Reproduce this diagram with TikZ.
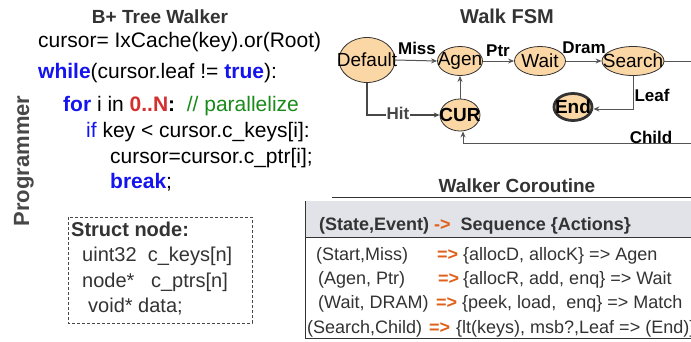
\documentclass[tikz,border=0pt]{standalone}
\usepackage{fontspec}
\setmainfont{Liberation Sans}
\usetikzlibrary{arrows.meta,shapes.geometric}
\definecolor{kwblue}{HTML}{1414F0}
\definecolor{kwred}{HTML}{D43030}
\definecolor{kwgreen}{HTML}{1A8A1A}
\definecolor{txtgray}{HTML}{333333}
\definecolor{peach}{HTML}{FCD7A6}
\definecolor{edgegray}{HTML}{555555}
\definecolor{hdrgray}{HTML}{E1E3E8}
\definecolor{orng}{HTML}{E0601A}
\newcommand{\zb}[1]{\makebox[0pt]{#1}}
\begin{document}
\begin{tikzpicture}[x=1pt,y=-1pt,
  code/.style={anchor=base west,inner sep=0,font=\fontsize{21}{25}\selectfont},
  title/.style={anchor=base,inner sep=0,text=txtgray,font=\fontsize{19}{23}\selectfont\bfseries},
  stxt/.style={anchor=base west,inner sep=0,text=txtgray,font=\fontsize{20}{24}\selectfont},
  row/.style={anchor=base west,inner sep=0,text=txtgray,font=\fontsize{18}{22}\selectfont},
  state/.style={ellipse,draw=txtgray,line width=0.8pt,fill=peach,inner sep=0,font=\fontsize{19}{22}\selectfont},
  elabel/.style={inner sep=1pt,font=\fontsize{17}{20}\selectfont\bfseries},
  arr/.style={draw=edgegray,line width=1pt,-{Stealth[length=6pt,width=5pt]}},
]
\useasboundingbox (0,0) rectangle (691,341);
\fill[white] (0,0) rectangle (691,341);

% ---------- B+ Tree Walker ----------
\node[title] (t1) at (160,23) {B+ Tree Walker};
\node[code] (c1) at (38,47) {cursor= IxCache(key).or(Root)};
\node[code] (c2) at (38,78) {\textcolor{kwblue}{\bfseries while}(cursor.leaf != \textcolor{kwblue}{\bfseries true}):};
\node[code] (c3) at (63,111) {\textcolor{kwblue}{\bfseries for} i in \textcolor{kwred}{\bfseries 0..N}\textbf{:}\ \ \textcolor{kwgreen}{// parallelize}};
\node[code] (c4) at (86,137) {\textcolor{kwblue}{if} key < cursor.c\_keys[i]:};
\node[code] (c5) at (110,163) {cursor=cursor.c\_ptr[i];};
\node[code] (c6) at (110,188) {\textcolor{kwblue}{\bfseries break};};

\node[rotate=90,inner sep=0,text=txtgray!90,font=\fontsize{22}{26}\selectfont\bfseries] (prog) at (24,161) {Programmer};

% struct box
\draw[draw=txtgray!90,line width=0.9pt,dash pattern=on 3pt off 2pt] (68,217) rectangle (252,323);
\node[stxt,font=\fontsize{20}{24}\selectfont\bfseries] (s1) at (71,236) {Struct node:};
\node[stxt] (s2) at (82,261) {uint32\ \ c\_keys[n]};
\node[stxt] (s3) at (82,287) {node*\ \ \ c\_ptrs[n]};
\node[stxt] (s4) at (88,312) {void* data;};

% ---------- Walk FSM ----------
\node[title,font=\fontsize{20}{24}\selectfont\bfseries] (t2) at (507,23) {Walk FSM};
\node[state,minimum width=56,minimum height=45] (Default) at (367,60) {\zb{Default}};
\node[state,minimum width=45,minimum height=29] (Agen) at (460,61) {\zb{Agen}};
\node[state,minimum width=51,minimum height=29] (Wait) at (540,61) {\zb{Wait}};
\node[state,minimum width=62,minimum height=29] (Search) at (633,61) {\zb{Search}};
\node[state,minimum width=38,minimum height=27,line width=2.8pt,font=\fontsize{19}{22}\selectfont\bfseries] (End) at (573,107) {\zb{End}};
\node[state,minimum width=40,minimum height=32,font=\fontsize{19}{22}\selectfont\bfseries] (CUR) at (460,115) {\zb{CUR}};

\draw[arr] (Default.east) -- (Agen.west);
\node[elabel] (lmiss) at (417,48) {Miss};
\draw[arr] (Agen.east) -- (Wait.west);
\node[elabel] (lptr) at (498,51) {Ptr};
\draw[arr] (Wait.east) -- (Search.west);
\node[elabel] (ldram) at (584,48) {Dram};
\draw[arr] (CUR.north) -- (Agen.south);
\draw[arr,line width=1.6pt,draw=txtgray!90] (Default.south) |- (CUR.west);
\node[elabel,fill=white,inner sep=0.5pt,text=txtgray!90] (lhit) at (398,113) {Hit};
\draw[arr] (Search.south) |- ([yshift=-2pt]End.east);
\node[elabel] (lleaf) at (652,95) {Leaf};
\draw[arr] (Search.east) -- (705,61) -- (705,143) -| ([xshift=3pt]CUR.south);
\node[elabel] (lchild) at (651,137) {Child};

% ---------- Walker Coroutine ----------
\node[title] (t3) at (517,192) {Walker Coroutine};
\draw[txtgray,line width=0.9pt] (332,197) -- (700,197);
\fill[hdrgray] (305,201) rectangle (700,237);
\draw[txtgray,line width=0.9pt] (305,201) -- (305,338) -- (700,338);
\draw[txtgray,line width=0.9pt] (305,237) -- (700,237);

\node[row,font=\fontsize{18}{22}\selectfont\bfseries] (h1) at (319,230) {(State,Event) \textcolor{orng}{->}\ \ Sequence \{Actions\}};

\node[row] (r1a) at (316,260) {(Start,Miss)};
\node[row,text=orng,font=\fontsize{18}{22}\selectfont\bfseries] (r1b) at (437,260) {=>};
\node[row] (r1c) at (463,260) {\{allocD, allocK\} => Agen};

\node[row] (r2a) at (318,284) {(Agen, Ptr)};
\node[row,text=orng,font=\fontsize{18}{22}\selectfont\bfseries] (r2b) at (438,284) {=>};
\node[row] (r2c) at (463,284) {\{allocR, add, enq\} => Wait};

\node[row] (r3a) at (318,308) {(Wait, DRAM)};
\node[row,text=orng,font=\fontsize{18}{22}\selectfont\bfseries] (r3b) at (436,308) {=>};
\node[row] (r3c) at (462,308) {\{peek, load,\ \ enq\} => Match};

\node[row] (r4a) at (307,333) {(Search,Child)};
\node[row,text=orng,font=\fontsize{18}{22}\selectfont\bfseries] (r4b) at (429,333) {=>};
\node[row] (r4c) at (456,333) {\{lt(keys), msb?,Leaf => (End)\}};
\end{tikzpicture}
\end{document}
